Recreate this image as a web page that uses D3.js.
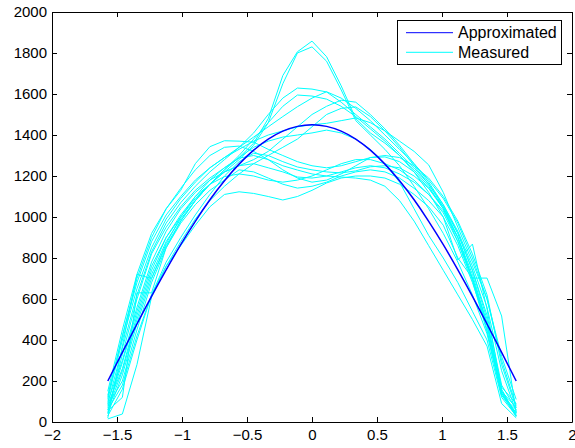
<!DOCTYPE html>
<html>
<head>
<meta charset="utf-8">
<script src="https://cdn.jsdelivr.net/npm/d3@7"></script>
<style>
  html, body { margin: 0; padding: 0; background: #fff; }
  svg { display: block; }
  text { font-family: "Liberation Sans", Arial, Helvetica, sans-serif; }
</style>
</head>
<body>
<svg id="chart" width="575" height="448"></svg>
<script>
// Sample positions: 29 equally spaced angles from -pi/2 to pi/2
const xSamples = d3.range(29).map(i => -Math.PI / 2 + i * Math.PI / 28);

// Fitted profile
const approximated = [200, 340, 478, 613, 742, 865, 979, 1084, 1177, 1258, 1326, 1380, 1419, 1442, 1450,
                      1442, 1419, 1380, 1326, 1258, 1177, 1084, 979, 865, 742, 613, 478, 340, 200];

// Measured profiles
const measured1  = [45, 330, 600, 820, 950, 1050, 1130, 1190, 1240, 1290, 1360, 1480, 1690, 1806, 1858, 1782, 1640, 1480, 1410, 1360, 1300, 1230, 1150, 1040, 880, 700, 480, 150, 40];
const measured2  = [70, 290, 540, 760, 900, 1000, 1090, 1160, 1220, 1280, 1350, 1460, 1650, 1800, 1830, 1760, 1620, 1470, 1400, 1330, 1250, 1150, 1040, 920, 780, 620, 430, 130, 60];
const measured3  = [90, 360, 620, 830, 970, 1070, 1150, 1220, 1280, 1340, 1410, 1500, 1580, 1629, 1624, 1610, 1560, 1500, 1440, 1380, 1310, 1240, 1160, 1060, 930, 760, 560, 250, 50];
const measured4  = [60, 250, 500, 720, 880, 990, 1080, 1160, 1230, 1300, 1380, 1460, 1540, 1595, 1590, 1575, 1540, 1490, 1430, 1370, 1300, 1220, 1120, 1000, 860, 680, 470, 160, 30];
const measured5  = [110, 400, 650, 850, 990, 1090, 1170, 1240, 1290, 1340, 1390, 1440, 1490, 1538, 1580, 1611, 1580, 1530, 1470, 1400, 1330, 1260, 1180, 1090, 970, 800, 600, 300, 80];
const measured6  = [130, 420, 680, 880, 1010, 1100, 1180, 1240, 1290, 1330, 1370, 1400, 1420, 1440, 1450, 1457, 1470, 1483, 1460, 1420, 1370, 1320, 1254, 1120, 950, 780, 600, 320, 110];
const measured7  = [80, 200, 450, 680, 850, 980, 1080, 1160, 1230, 1290, 1340, 1370, 1390, 1400, 1410, 1424, 1410, 1380, 1330, 1260, 1170, 1040, 910, 800, 680, 540, 400, 120, 30];
const measured8  = [100, 300, 560, 780, 930, 1040, 1120, 1180, 1220, 1250, 1280, 1320, 1380, 1440, 1500, 1540, 1570, 1560, 1500, 1430, 1350, 1260, 1170, 1060, 920, 740, 520, 180, 60];
const measured9  = [60, 180, 420, 620, 760, 880, 990, 1080, 1150, 1210, 1260, 1300, 1340, 1380, 1440, 1500, 1530, 1537, 1490, 1420, 1340, 1250, 1160, 1050, 900, 700, 450, 130, 35];
const measured10 = [120, 420, 700, 900, 1040, 1130, 1260, 1343, 1372, 1370, 1365, 1330, 1300, 1270, 1250, 1240, 1250, 1270, 1290, 1300, 1290, 1250, 1190, 1100, 980, 820, 620, 280, 70];
const measured11 = [150, 450, 720, 920, 1040, 1140, 1230, 1300, 1340, 1346, 1320, 1280, 1230, 1190, 1170, 1180, 1210, 1250, 1290, 1293, 1270, 1220, 1140, 1040, 900, 700, 480, 170, 90];
const measured12 = [30, 160, 400, 620, 780, 900, 1010, 1110, 1200, 1270, 1311, 1300, 1270, 1244, 1230, 1220, 1215, 1225, 1245, 1250, 1240, 1200, 1140, 1050, 920, 740, 500, 140, 25];
const measured13 = [40, 230, 480, 700, 870, 1000, 1100, 1180, 1240, 1287, 1300, 1280, 1250, 1229, 1210, 1200, 1195, 1190, 1180, 1150, 1080, 980, 860, 740, 620, 500, 370, 90, 20];
const measured14 = [20, 370, 720, 700, 860, 980, 1080, 1160, 1220, 1250, 1260, 1240, 1220, 1195, 1190, 1200, 1220, 1240, 1250, 1240, 1210, 1170, 1110, 1030, 900, 720, 480, 140, 45];
const measured15 = [55, 120, 630, 630, 850, 970, 1060, 1130, 1180, 1230, 1220, 1190, 1160, 1141, 1150, 1170, 1200, 1220, 1230, 1220, 1190, 1140, 1080, 1000, 790, 868, 550, 150, 30];
const measured16 = [15, 39, 280, 610, 760, 860, 960, 1050, 1110, 1123, 1115, 1100, 1083, 1100, 1130, 1166, 1190, 1200, 1200, 1190, 1160, 1110, 1050, 960, 800, 702, 702, 517, 44];
const measured17 = [85, 260, 520, 740, 900, 1010, 1100, 1160, 1197, 1210, 1200, 1180, 1170, 1180, 1200, 1230, 1260, 1280, 1280, 1260, 1230, 1180, 1110, 1020, 880, 690, 440, 150, 70];

const measuredSeries = [measured1, measured2, measured3, measured4, measured5, measured6, measured7, measured8, measured9,
                        measured10, measured11, measured12, measured13, measured14, measured15, measured16, measured17];

// Axis ticks
const xTicks = [-2, -1.5, -1, -0.5, 0, 0.5, 1, 1.5, 2];
const xTickLabels = ["\u22122", "\u22121.5", "\u22121", "\u22120.5", "0", "0.5", "1", "1.5", "2"];
const yTicks = [0, 200, 400, 600, 800, 1000, 1200, 1400, 1600, 1800, 2000];
const yTickLabels = ["0", "200", "400", "600", "800", "1000", "1200", "1400", "1600", "1800", "2000"];

const legendLabels = ["Approximated", "Measured"];
const colorApprox = "#0000ff";
const colorMeasured = "#00ffff";

const svg = d3.select("#chart");
const plotLeft = 52, plotRight = 572, plotTop = 12, plotBottom = 422;

const x = d3.scaleLinear().domain([-2, 2]).range([plotLeft, plotRight]);
const y = d3.scaleLinear().domain([0, 2000]).range([plotBottom, plotTop]);

const line = d3.line().x((d, i) => x(xSamples[i])).y(d => y(d));
const smooth = d3.line().x((d, i) => x(xSamples[i])).y(d => y(d)).curve(d3.curveNatural);

// Measured profiles
svg.append("g")
  .selectAll("path")
  .data(measuredSeries)
  .join("path")
  .attr("d", line)
  .attr("fill", "none")
  .attr("stroke", colorMeasured)
  .attr("stroke-width", 1);

// Fitted curve
svg.append("path")
  .attr("d", smooth(approximated))
  .attr("fill", "none")
  .attr("stroke", colorApprox)
  .attr("stroke-width", 1.5);

// Axes with inward ticks on all four sides
const fontSize = 15;
const xAxis = d3.axisBottom(x).tickValues(xTicks).tickFormat((d, i) => xTickLabels[i])
  .tickSizeInner(-5).tickSizeOuter(0).tickPadding(7);
const yAxis = d3.axisLeft(y).tickValues(yTicks).tickFormat((d, i) => yTickLabels[i])
  .tickSizeInner(-5).tickSizeOuter(0).tickPadding(5);
const xAxisTop = d3.axisTop(x).tickValues(xTicks).tickFormat("").tickSizeInner(-5).tickSizeOuter(0);
const yAxisRight = d3.axisRight(y).tickValues(yTicks).tickFormat("").tickSizeInner(-5).tickSizeOuter(0);

function styleAxis(g) {
  g.selectAll("path, line").attr("stroke", "#000").attr("stroke-width", 1);
  g.selectAll("text").attr("fill", "#000").attr("font-size", fontSize)
    .attr("font-family", "'Liberation Sans', Arial, Helvetica, sans-serif");
}

svg.append("g").attr("transform", `translate(0,${plotBottom})`).call(xAxis).call(styleAxis);
svg.append("g").attr("transform", `translate(${plotLeft},0)`).call(yAxis).call(styleAxis);
svg.append("g").attr("transform", `translate(0,${plotTop})`).call(xAxisTop).call(styleAxis);
svg.append("g").attr("transform", `translate(${plotRight},0)`).call(yAxisRight).call(styleAxis);

// Legend
const legend = svg.append("g").attr("transform", "translate(397,20)");
legend.append("rect")
  .attr("x", 0.5).attr("y", 0.5).attr("width", 164).attr("height", 44)
  .attr("fill", "#fff").attr("stroke", "#000").attr("stroke-width", 1);
const legendColors = [colorApprox, colorMeasured];
const rowY = [12.7, 32.3];
legendLabels.forEach((lab, i) => {
  legend.append("line")
    .attr("x1", 9).attr("x2", 56).attr("y1", rowY[i]).attr("y2", rowY[i])
    .attr("stroke", legendColors[i]).attr("stroke-width", 1);
  legend.append("text")
    .attr("x", 61).attr("y", rowY[i]).attr("dy", "0.35em")
    .attr("font-size", 16).attr("fill", "#000")
    .text(lab);
});
</script>
</body>
</html>
